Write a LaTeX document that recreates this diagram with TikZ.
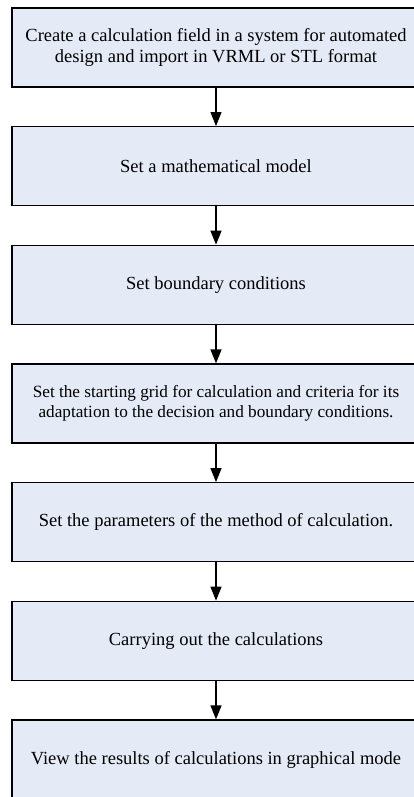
\documentclass[tikz,border=0pt]{standalone}
\usepackage{fontspec}
\setmainfont{Liberation Serif}
\usetikzlibrary{arrows.meta}
\definecolor{boxfill}{RGB}{228,234,246}
\begin{document}
\begin{tikzpicture}[x=1pt,y=-1pt,
  stepbox/.style={draw=black, fill=boxfill, line width=1.3pt, rectangle,
    inner sep=0pt, minimum width=408pt, minimum height=79pt, align=center,
    font=\fontsize{18.5}{20.5}\selectfont},
  tightbox/.style={stepbox, font=\fontsize{17.2}{20.5}\selectfont},
  flow/.style={line width=1.3pt, -{Triangle[length=14pt,width=11pt]}}]
\useasboundingbox (0,0) rectangle (414,797);
\node[stepbox] (b1) at (216,47.5) {Create a calculation field in a system for automated\\design and import in VRML or STL format};
\node[stepbox] (b2) at (216,166.2) {Set a mathematical model};
\node[stepbox] (b3) at (216,284.8) {Set boundary conditions};
\node[tightbox] (b4) at (216,403.5) {Set the starting grid for calculation and criteria for its\\adaptation to the decision and boundary conditions.};
\node[stepbox] (b5) at (216,522.2) {Set the parameters of the method of calculation.};
\node[stepbox] (b6) at (216,640.8) {Carrying out the calculations};
\node[stepbox] (b7) at (216,759.5) {View the results of calculations in graphical mode};
\draw[flow] (b1) -- (b2);
\draw[flow] (b2) -- (b3);
\draw[flow] (b3) -- (b4);
\draw[flow] (b4) -- (b5);
\draw[flow] (b5) -- (b6);
\draw[flow] (b6) -- (b7);
\end{tikzpicture}
\end{document}
